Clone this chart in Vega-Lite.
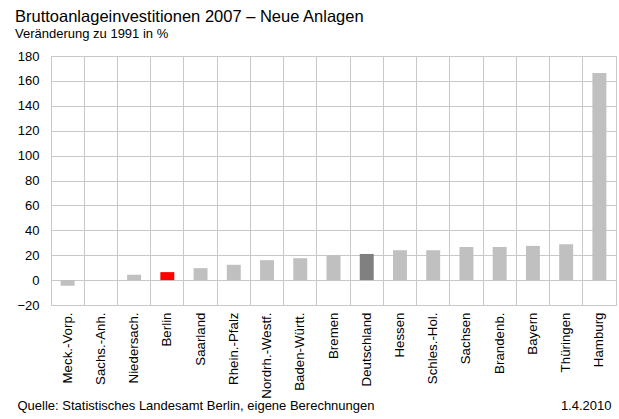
{
  "$schema": "https://vega.github.io/schema/vega-lite/v6.json",
  "width": 565,
  "height": 249,
  "autosize": {"type": "none"},
  "padding": {"left": 51, "top": 56, "right": 3, "bottom": 114},
  "background": "white",
  "title": {
    "text": "Bruttoanlageinvestitionen 2007 – Neue Anlagen",
    "subtitle": "Veränderung zu 1991 in %",
    "anchor": "start",
    "frame": "group",
    "dx": -36,
    "offset": 9,
    "font": "Liberation Sans",
    "fontSize": 16.5,
    "fontWeight": "normal",
    "color": "#000000",
    "subtitleFont": "Liberation Sans",
    "subtitleFontSize": 13,
    "subtitleColor": "#000000",
    "subtitlePadding": 3
  },
  "data": {
    "values": [
      {"land": "Meck.-Vorp.", "wert": -4.5},
      {"land": "Sachs.-Anh.", "wert": 0},
      {"land": "Niedersach.", "wert": 4.3},
      {"land": "Berlin", "wert": 6.4},
      {"land": "Saarland", "wert": 9.6},
      {"land": "Rhein.-Pfalz", "wert": 12.3},
      {"land": "Nordrh.-Westf.", "wert": 16},
      {"land": "Baden-Württ.", "wert": 17.6},
      {"land": "Bremen", "wert": 20},
      {"land": "Deutschland", "wert": 21},
      {"land": "Hessen", "wert": 24},
      {"land": "Schles.-Hol.", "wert": 24},
      {"land": "Sachsen", "wert": 26.6},
      {"land": "Brandenb.", "wert": 26.6},
      {"land": "Bayern", "wert": 27.5},
      {"land": "Thüringen", "wert": 28.8},
      {"land": "Hamburg", "wert": 166.4}
    ]
  },
  "encoding": {
    "x": {
      "field": "land",
      "type": "nominal",
      "sort": null,
      "scale": {"paddingInner": 0, "paddingOuter": 0},
      "axis": {
        "title": "Quelle: Statistisches Landesamt Berlin, eigene Berechnungen",
        "titleFont": "Liberation Sans",
        "titleFontSize": 13,
        "titleFontWeight": "normal",
        "titleColor": "#000000",
        "titleAnchor": "start",
        "titleAlign": "left",
        "titleBaseline": "alphabetic",
        "titleX": -34,
        "titleY": 104,
        "labelAngle": 270,
        "labelFont": "Liberation Sans",
        "labelFontSize": 13.3,
        "labelColor": "#000000",
        "labelPadding": 7,
        "ticks": false,
        "domain": false,
        "grid": true,
        "gridColor": "#c8c8c8",
        "gridWidth": 1,
        "bandPosition": 0
      }
    },
    "y": {
      "field": "wert",
      "type": "quantitative",
      "scale": {"domain": [-20, 180], "nice": false, "zero": false}
    }
  },
  "layer": [
    {
      "mark": {"type": "bar", "width": {"band": 0.42}},
      "encoding": {
        "color": {
          "condition": [
            {"test": "datum.land === 'Berlin'", "value": "#ff0000"},
            {"test": "datum.land === 'Deutschland'", "value": "#808080"}
          ],
          "value": "#c0c0c0"
        },
        "y": {
          "field": "wert",
          "type": "quantitative",
          "axis": {
            "title": null,
            "values": [-20, 0, 20, 40, 60, 80, 100, 120, 140, 160, 180],
            "labelFont": "Liberation Sans",
            "labelFontSize": 13,
            "labelColor": "#000000",
            "labelPadding": 12,
            "ticks": false,
            "domain": false,
            "grid": true,
            "gridColor": "#c8c8c8",
            "gridWidth": 1
          }
        }
      }
    },
    {
      "mark": {"type": "bar", "width": {"band": 0.42}, "opacity": 0},
      "encoding": {
        "y": {
          "field": "wert",
          "type": "quantitative",
          "axis": {
            "orient": "right",
            "title": "1.4.2010",
            "titleAngle": 0,
            "titleFont": "Liberation Sans",
            "titleFontSize": 13,
            "titleFontWeight": "normal",
            "titleColor": "#000000",
            "titleAlign": "right",
            "titleBaseline": "alphabetic",
            "titleX": -5,
            "titleY": 353,
            "labels": false,
            "ticks": false,
            "domain": false,
            "grid": false
          }
        }
      }
    }
  ],
  "resolve": {"axis": {"y": "independent"}},
  "config": {
    "view": {"stroke": "#c8c8c8", "strokeWidth": 1}
  }
}
